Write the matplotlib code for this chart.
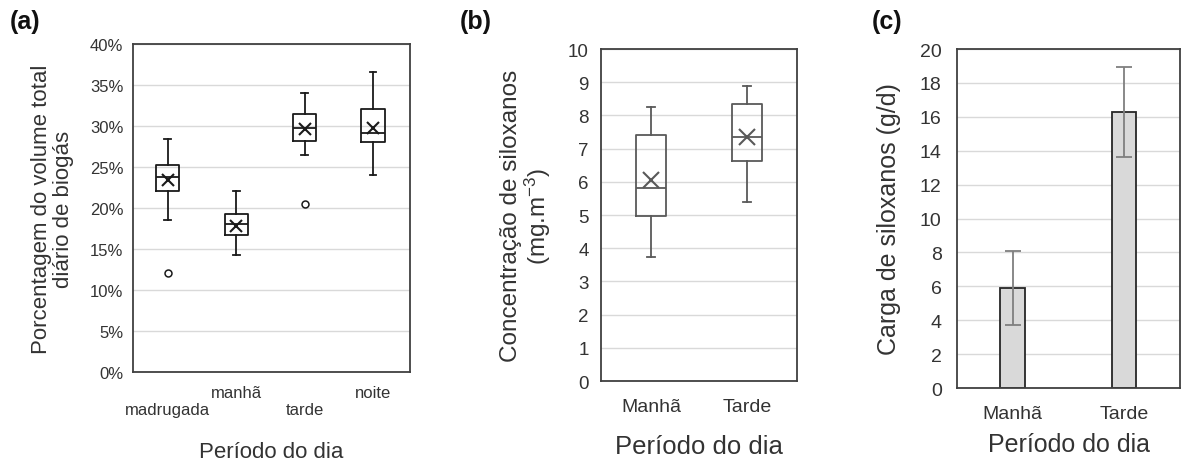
import matplotlib
matplotlib.use("Agg")
import matplotlib.pyplot as plt
from matplotlib.ticker import PercentFormatter, MultipleLocator

plt.rcParams['font.family'] = ['Liberation Sans', 'DejaVu Sans']
plt.rcParams['mathtext.fontset'] = 'custom'
plt.rcParams['mathtext.rm'] = 'Liberation Sans'
plt.rcParams['mathtext.it'] = 'Liberation Sans:italic'
plt.rcParams['mathtext.bf'] = 'Liberation Sans:bold'

# (a) share of daily biogas volume per period (%), box summaries
periods_a = ["madrugada", "manhã", "tarde", "noite"]
whislo_a = [18.5, 14.3, 26.5, 24.0]
q1_a = [22.1, 16.7, 28.2, 28.1]
med_a = [23.8, 18.0, 29.7, 29.2]
q3_a = [25.2, 19.3, 31.5, 32.1]
whishi_a = [28.4, 22.1, 34.0, 36.6]
mean_a = [23.4, 17.8, 29.6, 29.7]
fliers_a = [[12.1], [], [20.5], []]

# (b) siloxane concentration (mg/m3), box summaries
periods_b = ["Manhã", "Tarde"]
whislo_b = [3.73, 5.40]
q1_b = [4.96, 6.64]
med_b = [5.80, 7.35]
q3_b = [7.42, 8.33]
whishi_b = [8.25, 8.90]
mean_b = [6.04, 7.35]

# (c) siloxane load (g/d) with error
periods_c = ["Manhã", "Tarde"]
load_c = [5.9, 16.3]
err_c = [2.2, 2.65]

frame = '#404040'
grid = '#d9d9d9'
txt = '#333333'

fig = plt.figure(figsize=(11.81, 4.64), dpi=100)
ax_a = fig.add_axes([0.1126, 0.1961, 0.2345, 0.7069])
ax_b = fig.add_axes([0.5089, 0.1767, 0.1660, 0.7155])
ax_c = fig.add_axes([0.8103, 0.1616, 0.1888, 0.7306])


def stats(labels, lo, q1, med, q3, hi, mean, fliers=None):
    out = []
    for i, lab in enumerate(labels):
        out.append(dict(label=lab, whislo=lo[i], q1=q1[i], med=med[i], q3=q3[i],
                        whishi=hi[i], mean=mean[i],
                        fliers=fliers[i] if fliers else []))
    return out


def style(ax):
    for s in ax.spines.values():
        s.set_color(frame)
        s.set_linewidth(1.3)
    ax.grid(axis='y', color=grid, lw=1.0)
    ax.set_axisbelow(True)
    ax.tick_params(length=0, colors=txt)


# --- (a)
style(ax_a)
line_a = dict(color='#1a1a1a', lw=1.3)
ax_a.bxp(stats(periods_a, whislo_a, q1_a, med_a, q3_a, whishi_a, mean_a, fliers_a),
         positions=range(1, 5), widths=0.34, capwidths=0.1, showmeans=True,
         boxprops=line_a, whiskerprops=line_a, capprops=line_a, medianprops=line_a,
         meanprops=dict(marker='x', markeredgecolor='#1a1a1a', markersize=8, markeredgewidth=1.5),
         flierprops=dict(marker='o', markerfacecolor='none', markeredgecolor='#1a1a1a',
                         markersize=5, markeredgewidth=1.1),
         manage_ticks=False)
ax_a.set_xlim(0.49, 4.54)
ax_a.set_ylim(0, 40)
ax_a.yaxis.set_major_locator(MultipleLocator(5))
ax_a.yaxis.set_major_formatter(PercentFormatter(xmax=100, decimals=0))
ax_a.set_xticks(range(1, 5))
ax_a.set_xticklabels([("\n" if i % 2 == 0 else "") + p for i, p in enumerate(periods_a)])
ax_a.tick_params(axis='y', labelsize=12, pad=7)
ax_a.tick_params(axis='x', labelsize=12, pad=9)
ax_a.text(-0.2906, 0.5, "Porcentagem do volume total\ndiário de biogás", transform=ax_a.transAxes,
          rotation=90, ha='center', va='center', fontsize=16, color=txt, linespacing=1.05)
ax_a.text(0.5, -0.241, "Período do dia", transform=ax_a.transAxes,
          ha='center', va='center', fontsize=16, color=txt)

# --- (b)
style(ax_b)
line_b = dict(color='#595959', lw=1.3)
ax_b.bxp(stats(periods_b, whislo_b, q1_b, med_b, q3_b, whishi_b, mean_b),
         positions=[1, 2], widths=0.32, capwidths=0.08, showmeans=True,
         boxprops=line_b, whiskerprops=line_b, capprops=line_b, medianprops=line_b,
         meanprops=dict(marker='x', markeredgecolor='#595959', markersize=11, markeredgewidth=1.5),
         manage_ticks=False)
ax_b.set_xlim(0.48, 2.52)
ax_b.set_ylim(0, 10)
ax_b.yaxis.set_major_locator(MultipleLocator(1))
ax_b.set_xticks([1, 2])
ax_b.set_xticklabels(periods_b)
ax_b.tick_params(axis='y', labelsize=13.5, pad=9)
ax_b.tick_params(axis='x', labelsize=14, pad=12)
ax_b.text(-0.380, 0.5, "Concentração de siloxanos\n(mg.m$^{-3}$)", transform=ax_b.transAxes,
          rotation=90, ha='center', va='center', fontsize=17.5, color=txt, linespacing=1.0)
ax_b.text(0.5, -0.196, "Período do dia", transform=ax_b.transAxes,
          ha='center', va='center', fontsize=18.5, color=txt)

# --- (c)
style(ax_c)
ax_c.bar([1, 2], load_c, width=0.22, color='#d9d9d9', edgecolor='#262626', lw=1.3,
         yerr=err_c, capsize=6, error_kw=dict(ecolor='#7f7f7f', elinewidth=1.3, capthick=1.3))
ax_c.set_xlim(0.5, 2.5)
ax_c.set_ylim(0, 20)
ax_c.yaxis.set_major_locator(MultipleLocator(2))
ax_c.set_xticks([1, 2])
ax_c.set_xticklabels(periods_c)
ax_c.tick_params(axis='y', labelsize=14, pad=11)
ax_c.tick_params(axis='x', labelsize=14, pad=12)
ax_c.text(-0.305, 0.5, "Carga de siloxanos (g/d)", transform=ax_c.transAxes,
          rotation=90, ha='center', va='center', fontsize=18, color=txt)
ax_c.text(0.502, -0.165, "Período do dia", transform=ax_c.transAxes,
          ha='center', va='center', fontsize=18, color=txt)

# panel letters
for x, lab in [(0.0085, "(a)"), (0.3895, "(b)"), (0.738, "(c)")]:
    fig.text(x, 0.9526, lab, ha='left', va='center', fontsize=18, fontweight='bold', color='#111111')

fig.savefig("out.png", dpi=100)
